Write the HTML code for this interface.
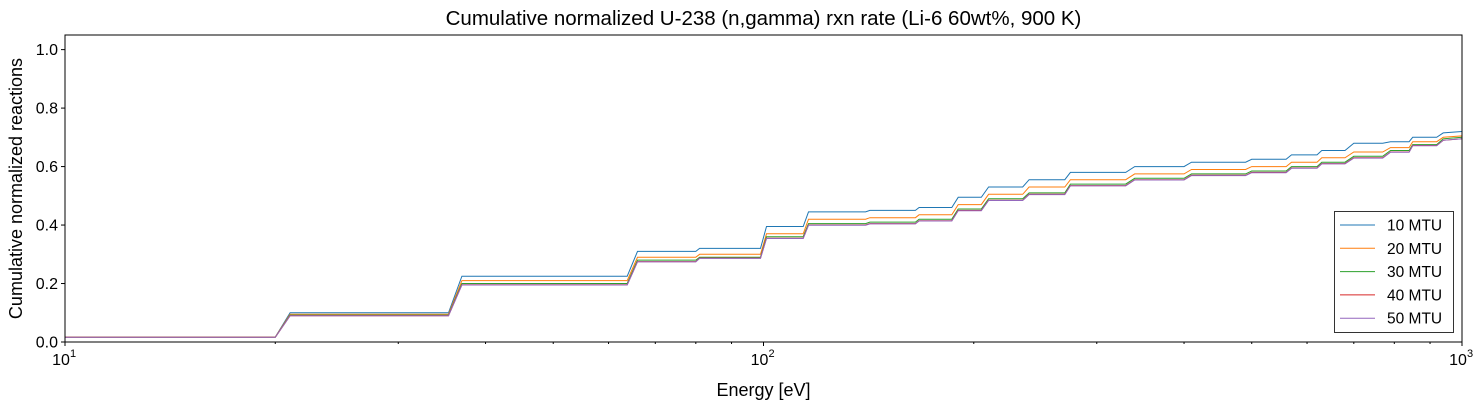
<!DOCTYPE html>
<html><head><meta charset="utf-8"><style>
body{margin:0;background:#fff;}
svg text{font-family:"Liberation Sans",Arial,sans-serif;fill:#000;}
</style></head><body>
<svg id="chart" width="1484" height="409" xmlns="http://www.w3.org/2000/svg"></svg>
<script>
const energies=[10,20,21,35.4,37,63.8,66,80,81,99,101,114,116,140,142,165,167,186,190,205,210,235,240,270,275,330,340,400,410,490,500,560,570,620,630,680,700,770,790,840,850,920,940,1000];
const s10=[.017,.017,.100,.100,.225,.225,.310,.310,.320,.320,.395,.395,.445,.445,.450,.450,.460,.460,.495,.495,.530,.530,.555,.555,.580,.580,.600,.600,.615,.615,.625,.625,.640,.640,.655,.655,.680,.680,.685,.685,.700,.700,.715,.720];
const s20=[.017,.017,.095,.095,.210,.210,.290,.290,.300,.300,.370,.370,.420,.420,.425,.425,.435,.435,.470,.470,.505,.505,.530,.530,.555,.555,.575,.575,.590,.590,.600,.600,.615,.615,.630,.630,.650,.650,.665,.665,.685,.685,.700,.705];
const s30=[.016,.016,.092,.092,.200,.200,.280,.280,.290,.290,.360,.360,.405,.405,.410,.410,.420,.420,.455,.455,.490,.490,.510,.510,.540,.540,.560,.560,.575,.575,.585,.585,.600,.600,.615,.615,.635,.635,.655,.655,.675,.675,.695,.700];
const s40=[.016,.016,.090,.090,.196,.196,.275,.275,.287,.287,.355,.355,.400,.400,.405,.405,.415,.415,.450,.450,.485,.485,.505,.505,.535,.535,.555,.555,.570,.570,.580,.580,.595,.595,.610,.610,.630,.630,.650,.650,.672,.672,.690,.695];
const s50=[.016,.016,.090,.090,.195,.195,.274,.274,.286,.286,.354,.354,.399,.399,.404,.404,.414,.414,.449,.449,.484,.484,.504,.504,.534,.534,.554,.554,.569,.569,.579,.579,.594,.594,.609,.609,.629,.629,.649,.649,.671,.671,.690,.695];
const seriesNames=["10 MTU","20 MTU","30 MTU","40 MTU","50 MTU"];
const colors=["#1f77b4","#ff7f0e","#2ca02c","#d62728","#9467bd"];
const yTicks=[0,0.2,0.4,0.6,0.8,1.0];
const yTickLabels=["0.0","0.2","0.4","0.6","0.8","1.0"];
const xTicks=[10,100,1000];
const xTickExp=["1","2","3"];

const svg=document.getElementById('chart');
const NS="http://www.w3.org/2000/svg";
const L=65,R=1462,T=35,B=342;
function xs(e){return L+(Math.log10(e)-1)/2*(R-L);}
function ys(v){return B-v/1.05*(B-T);}
function mk(tag,attrs,parent){const el=document.createElementNS(NS,tag);for(const k in attrs)el.setAttribute(k,attrs[k]);(parent||svg).appendChild(el);return el;}

const all=[s10,s20,s30,s40,s50];
for(let i=0;i<all.length;i++){
  const d=energies.map((e,j)=>(j?'L':'M')+xs(e).toFixed(1)+','+ys(all[i][j]).toFixed(1)).join('');
  const p=mk('path',{d:d,fill:'none',stroke:colors[i],'stroke-width':1});
  
  
}
const frame=mk('rect',{x:L,y:T,width:R-L,height:B-T,fill:'none',stroke:'#000','stroke-width':1});



yTicks.forEach((v,i)=>{
  mk('line',{x1:L-4,x2:L,y1:ys(v),y2:ys(v),stroke:'#000'});
  const t=mk('text',{x:L-7,y:ys(v)+5.5,'text-anchor':'end','font-size':16});
  t.textContent=yTickLabels[i];
  
  
});
xTicks.forEach((e,i)=>{
  mk('line',{x1:xs(e),x2:xs(e),y1:B,y2:B+4,stroke:'#000'});
  const t=mk('text',{x:xs(e)-4,y:B+23,'text-anchor':'middle','font-size':16});
  t.textContent='10';
  
  
  const s=mk('text',{x:xs(e)+5,y:B+15,'font-size':11});
  s.textContent=xTickExp[i];
});
for(let d=10;d<1000;d*=10)for(let m=2;m<10;m++){const x=xs(d*m);mk('line',{x1:x,x2:x,y1:B,y2:B+2,stroke:'#000'});}

const title=mk('text',{x:(L+R)/2,y:25,'text-anchor':'middle','font-size':20.5});
title.textContent='Cumulative normalized U-238 (n,gamma) rxn rate (Li-6 60wt%, 900 K)';


const xl=mk('text',{x:(L+R)/2,y:396,'text-anchor':'middle','font-size':18});
xl.textContent='Energy [eV]';


const yl=mk('text',{x:22,y:(T+B)/2,'text-anchor':'middle','font-size':18,transform:'rotate(-90 22 '+((T+B)/2)+')'});
yl.textContent='Cumulative normalized reactions';



const lg=mk('g',{});


mk('rect',{x:1334.5,y:211.5,width:119,height:121,fill:'#fff',stroke:'#333','stroke-width':1},lg);
seriesNames.forEach((n,i)=>{
  const y=225+i*23.3;
  const g=mk('g',{},lg);
  
  
  mk('line',{x1:1340,x2:1375,y1:y,y2:y,stroke:colors[i],'stroke-width':1},g);
  const t=mk('text',{x:1387,y:y+5.5,'font-size':15.5},g);
  t.textContent=n;
});
</script>
</body></html>
